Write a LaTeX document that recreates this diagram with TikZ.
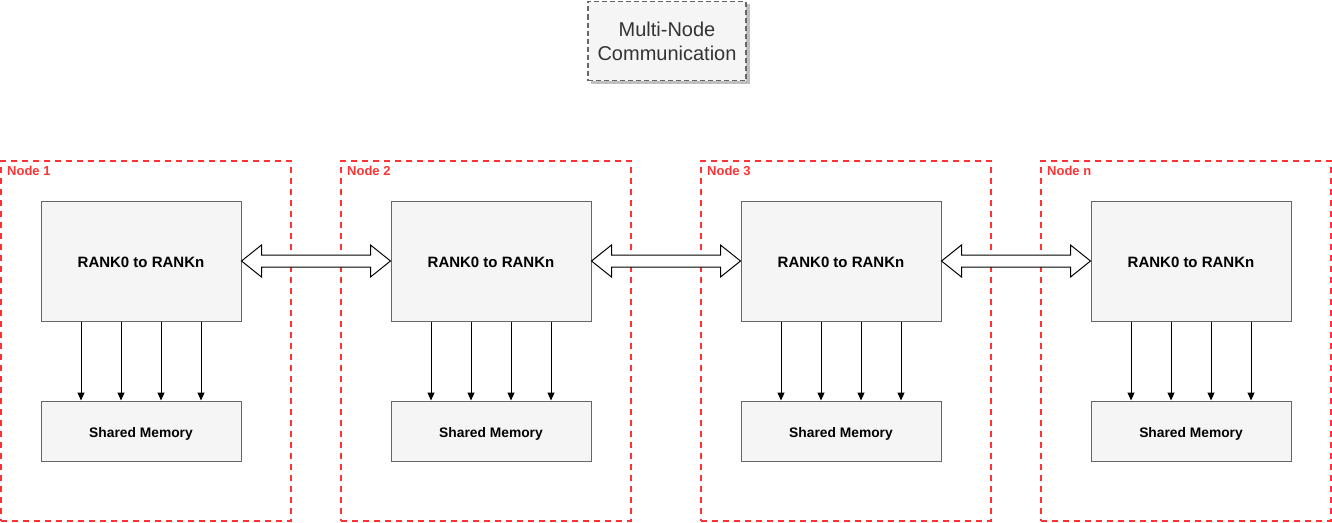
\documentclass[tikz,border=0pt]{standalone}
\usepackage{fontspec}
\setmainfont{Liberation Sans}
\usetikzlibrary{arrows.meta,calc}
\definecolor{boxfill}{HTML}{F5F5F5}
\definecolor{boxline}{HTML}{666666}
\definecolor{grpred}{HTML}{FF3333}
\definecolor{txt}{HTML}{333333}
\tikzset{
  grp/.style={draw=grpred, line width=1.6pt, dash pattern=on 6pt off 5pt, minimum width=290pt, minimum height=360pt, inner sep=0pt},
  rankbox/.style={draw=boxline, fill=boxfill, line width=1pt, minimum width=200pt, minimum height=120pt, inner sep=0pt, text height=12pt, text depth=0pt, font=\fontsize{15}{18}\selectfont\bfseries},
  membox/.style={draw=boxline, fill=boxfill, line width=1pt, minimum width=200pt, minimum height=60pt, inner sep=0pt, text height=12.5pt, text depth=0pt, font=\fontsize{13.8}{16}\selectfont\bfseries},
  grplabel/.style={text=grpred, font=\fontsize{13}{15}\selectfont\bfseries, anchor=west, inner sep=0pt},
  downarr/.style={draw=black, line width=1pt, -{Triangle[width=7pt,length=8pt]}},
  dblarr/.style={draw=black, fill=white, line width=1pt, line join=miter},
}
\begin{document}
\begin{tikzpicture}[x=1pt,y=-1pt]
\useasboundingbox (0,0) rectangle (1332,522);
% title
\fill[black!25] (591,4) rectangle (750,84);
\node[draw=boxline, fill=boxfill, line width=1.3pt, dash pattern=on 5pt off 3pt, minimum width=158pt, minimum height=79pt, inner sep=0pt, align=center, text=txt, font=\fontsize{20}{24}\selectfont] (title) at (667,41) {Multi-Node\\Communication};
% groups
\foreach \i/\x/\bx/\lab in {1/1/141/Node 1, 2/341/491/Node 2, 3/701/841/Node 3, 4/1041/1191/Node n} {
  \node[grp] (g\i) at (\x+145,341) {};
  \node[grplabel] (gl\i) at (\x+6,171) {\lab};
  \node[rankbox] (r\i) at (\bx,261) {RANK0 to RANKn};
  \node[membox] (m\i) at (\bx,431) {Shared Memory};
  \foreach \k in {-60,-20,20,60} {
    \draw[downarr] ($(r\i.south)+(\k,0)$) -- ($(m\i.north)+(\k,0)$);
  }
}
% double arrows
\foreach \a/\b in {r1/r2, r2/r3, r3/r4} {
  \draw[dblarr] (\a.east) -- ++(20,-16) -- ++(0,10)
    -- ($(\b.west)+(-20,-6)$) -- ++(0,-10) -- (\b.west) -- ++(-20,16) -- ++(0,-10)
    -- ($(\a.east)+(20,6)$) -- ++(0,10) -- cycle;
}
\end{tikzpicture}
\end{document}
